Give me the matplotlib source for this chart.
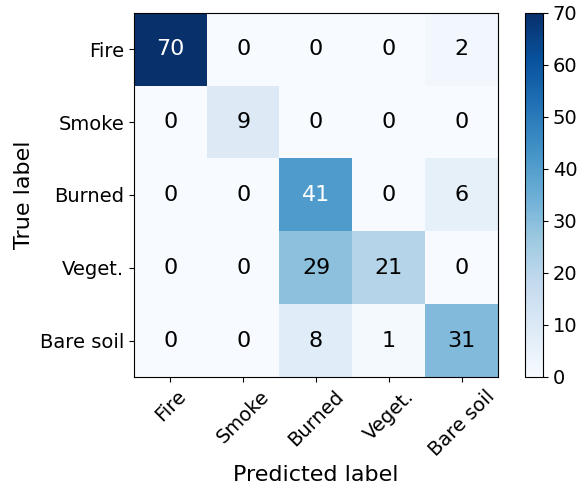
import numpy as np
import matplotlib
matplotlib.use("Agg")
import matplotlib.pyplot as plt

classes = ["Fire", "Smoke", "Burned", "Veget.", "Bare soil"]
counts = np.array([
    [70, 0, 0, 0, 2],
    [0, 9, 0, 0, 0],
    [0, 0, 41, 0, 6],
    [0, 0, 29, 21, 0],
    [0, 0, 8, 1, 31],
])

W, H = 579, 488
fig = plt.figure(figsize=(W / 100, H / 100), dpi=100)
ax = fig.add_axes([134 / W, 1 - 377 / H, 364 / W, 364 / H])
cax = fig.add_axes([525 / W, 1 - 377 / H, 18 / W, 364 / H])

im = ax.imshow(counts, interpolation="nearest", cmap="Blues", aspect="auto")
cb = fig.colorbar(im, cax=cax)
cb.ax.tick_params(labelsize=14)

ticks = np.arange(len(classes))
ax.set_xticks(ticks)
ax.set_yticks(ticks)
ax.set_xticklabels(classes, rotation=45, fontsize=14)
ax.set_yticklabels(classes, fontsize=14)
ax.set_xlabel("Predicted label", fontsize=16)
ax.set_ylabel("True label", fontsize=16)

thresh = (counts.max() + counts.min()) / 2.0
for i in range(counts.shape[0]):
    for j in range(counts.shape[1]):
        ax.text(j, i, format(counts[i, j], "d"), ha="center", va="center",
                fontsize=16,
                color="white" if counts[i, j] > thresh else "black")

fig.savefig("out.png", dpi=100)
